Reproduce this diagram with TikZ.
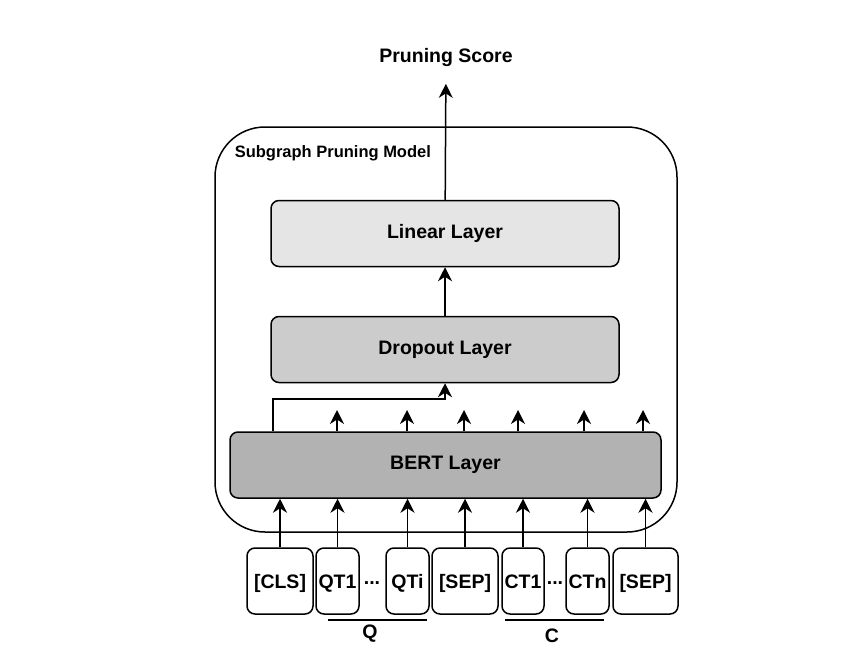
\documentclass[tikz,border=0pt]{standalone}
\usepackage{fontspec}
\setmainfont{Liberation Sans}
\usetikzlibrary{arrows.meta}
\begin{document}
\begin{tikzpicture}[x=1pt, y=-1pt, line width=1.5pt,
    every node/.style={font=\bfseries\fontsize{19.5}{22}\selectfont, inner sep=0pt},
    layer/.style={draw, rounded corners=8pt, minimum width=348pt, minimum height=66pt},
    token/.style={draw, rounded corners=8pt, minimum height=66pt, text height=14pt, text depth=0pt},
    arr/.style={-{Stealth[length=14pt, width=14pt, inset=4.5pt]}}]
      \useasboundingbox (0,0) rectangle (846,661);
      \node (model) at (446,329.5) [draw, rounded corners=50pt, minimum width=462pt, minimum height=405pt] {};
      \node (name) at (234,153) [anchor=west, font=\bfseries\fontsize{16.5}{19}\selectfont] {Subgraph Pruning Model};
      \node (score) at (446,58) {Pruning Score};
      \node (lin) at (445,233.5) [layer, fill=black!10] {Linear Layer};
      \node (drop) at (445,349.5) [layer, fill=black!20] {Dropout Layer};
      \node (bert) at (445.5,465) [layer, fill=black!30, minimum width=431pt] {BERT Layer};
      \node (cls) at (280,581) [token, minimum width=66pt] {[CLS]};
      \node (qt1) at (337.5,581) [token, minimum width=43pt] {QT1};
      \node (dq) at (372,583) {...};
      \node (qti) at (407.5,581) [token, minimum width=43pt] {QTi};
      \node (sep1) at (465,581) [token, minimum width=66pt] {[SEP]};
      \node (ct1) at (523,581) [token, minimum width=42pt] {CT1};
      \node (dc) at (555,583) {...};
      \node (ctn) at (587.5,581) [token, minimum width=43pt] {CTn};
      \node (sep2) at (645.5,581) [token, minimum width=65pt] {[SEP]};
      \node (q) at (370,634) {Q};
      \node (c) at (552,636) {C};
      \coordinate (qa) at (328,620);
      \coordinate (qb) at (427,620);
      \coordinate (ca) at (505,620);
      \coordinate (cb) at (604,620);
      \coordinate (skip) at (273,399);
      \foreach \x/\n in {337/o1, 407/o2, 464/o3, 518/o4, 584/o5, 643/o6}
        \coordinate (\n) at (\x,410);
      \foreach \source in {cls, qt1, qti, sep1, ct1, ctn, sep2}
        \draw[arr] (\source.north) -- (\source |- bert.south);
      \foreach \n in {o1, o2, o3, o4, o5, o6}
        \draw[arr] (\n |- bert.north) -- (\n);
      \draw[arr] (skip |- bert.north) -- (skip) -| (drop.south);
      \draw[arr] (drop) -- (lin);
      \draw[arr, shorten >=16pt] (lin) -- (score);
      \draw[line width=1.2pt] (qa) -- (qb);
      \draw[line width=1.2pt] (ca) -- (cb);
    \end{tikzpicture}
\end{document}
